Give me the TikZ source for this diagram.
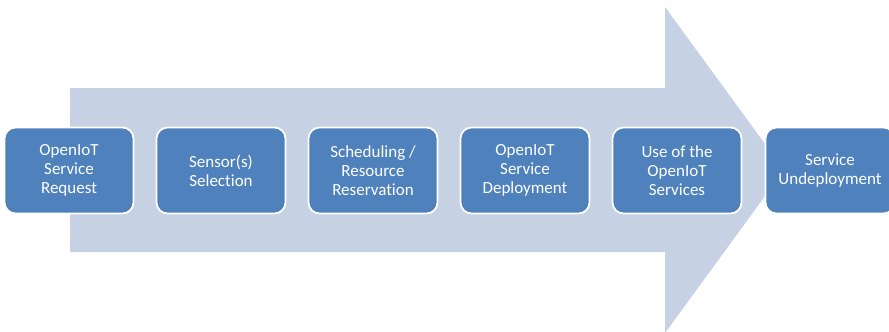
\documentclass[tikz,border=0pt]{standalone}
\usepackage{fontspec}
\setmainfont[Ligatures=NoCommon]{Carlito}
\definecolor{boxblue}{HTML}{4F81BD}
\definecolor{arrowfill}{HTML}{C6D1E3}
\begin{document}
\begin{tikzpicture}[x=1pt,y=-1pt,
  stage/.style={draw=white, line width=1.8pt, fill=boxblue, rounded corners=11pt,
    minimum width=129pt, minimum height=86pt, text=white, align=center,
    font=\fontsize{17}{19}\selectfont, inner sep=2pt}]
\clip (0,0) rectangle (889,332);
\useasboundingbox (0,0) rectangle (889,332);
\fill[white] (0,0) rectangle (889,332);
\fill[arrowfill] (70,88) -- (665,88) -- (665,7) -- (784,170) -- (665,333) -- (665,252) -- (70,252) -- cycle;
\node[stage] (s1) at (69,170.5) {OpenIoT\\Service\\Request};
\node[stage] (s2) at (221,170.5) {Sensor(s)\\Selection};
\node[stage] (s3) at (373,170.5) {Scheduling /\\Resource\\Reservation};
\node[stage] (s4) at (525,170.5) {OpenIoT\\Service\\Deployment};
\node[stage] (s5) at (677,170.5) {Use of the\\OpenIoT\\Services};
\node[stage] (s6) at (830,170.5) {Service\\Undeployment};
\end{tikzpicture}
\end{document}
